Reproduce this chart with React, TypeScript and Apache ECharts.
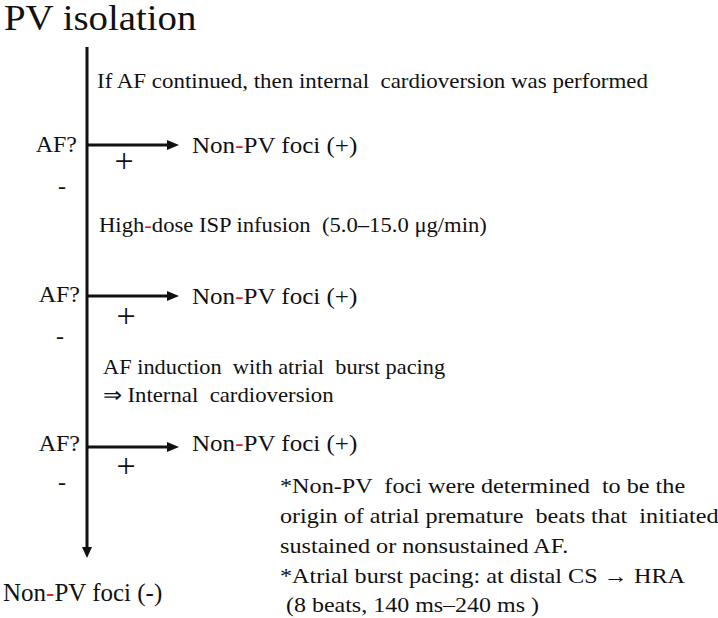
import React, { useEffect, useRef } from "react";
import * as echarts from "echarts";

// ---- content ----
const title = "PV isolation";
const stepNotes = [
  "If AF continued, then internal  cardioversion was performed",
  "High-dose ISP infusion  (5.0–15.0 μg/min)",
  "AF induction  with atrial  burst pacing",
  "⇒ Internal  cardioversion",
];
const stepRedHyphen = [false, true, false, false];
const decisionLabels = ["AF?", "AF?", "AF?"];
const positiveLabels = ["Non-PV foci (+)", "Non-PV foci (+)", "Non-PV foci (+)"];
const yesSigns = ["+", "+", "+"];
const noSigns = ["-", "-", "-"];
const negativeLabel = "Non-PV foci (-)";
const footnotes = [
  "*Non-PV  foci were determined  to be the",
  "origin of atrial premature  beats that  initiated",
  "sustained or nonsustained AF.",
  "*Atrial burst pacing: at distal CS \u2192 HRA",
  " (8 beats, 140 ms\u2013240 ms )",
];

// ---- layout ----
const FONT = '"Liberation Serif", "Times New Roman", serif';
const INK = "#111111";
const RED = "#e8201c";
const LINE_X = 87;
const LINE_TOP = 47;
const LINE_TIP = 558;
const stepPos = [
  [97, 81],
  [99, 225],
  [103, 367],
  [103, 395],
];
const stepScale = [1.093, 1.078, 1.065, 1.085];
const decisionY = [145, 296, 447];
const afPos = [
  [77, 144],
  [80, 294],
  [80, 443],
];
const posLabelPos = [
  [192, 145],
  [192, 296],
  [192, 443],
];
const yesPos = [
  [124, 160],
  [126, 315],
  [126, 465],
];
const noPos = [
  [62, 186],
  [60, 336],
  [62, 482],
];
const footY = [485, 515, 545, 575, 604];
const footX = [280, 280, 280, 280, 280];
const footScale = [1.1, 1.098, 1.1, 1.1, 1.09];

function withRed(s: string, red: boolean) {
  return red ? s.replace("-", "{r|-}") : s;
}

function txt(
  text: string,
  x: number,
  y: number,
  size: number,
  align: string = "left",
  redHyphen = false,
  scaleX = 1
) {
  return {
    type: "text",
    x,
    y,
    scaleX,
    silent: true,
    style: {
      text: withRed(text, redHyphen),
      fill: INK,
      font: `${size}px ${FONT}`,
      fontSize: size,
      fontFamily: FONT,
      align,
      verticalAlign: "middle",
      rich: {
        r: { fill: RED, fontSize: size, fontFamily: FONT, font: `${size}px ${FONT}` },
      },
    },
  };
}

export default function App() {
  const ref = useRef<HTMLDivElement>(null);
  useEffect(() => {
    if (!ref.current) return;
    const chart = echarts.init(ref.current, null, { renderer: "svg" });
    const els: any[] = [];
    els.push({
      type: "rect",
      shape: { x: 0, y: 0, width: 718, height: 618 },
      style: { fill: "#ffffff" },
      silent: true,
    });
    els.push(txt(title, 4, 18, 35, "left", false, 1.11));
    // main vertical arrow
    els.push({
      type: "line",
      shape: { x1: LINE_X, y1: LINE_TOP, x2: LINE_X, y2: LINE_TIP - 8 },
      style: { stroke: INK, lineWidth: 3 },
    });
    els.push({
      type: "polygon",
      shape: {
        points: [
          [LINE_X - 5, LINE_TIP - 11],
          [LINE_X + 5, LINE_TIP - 11],
          [LINE_X, LINE_TIP],
        ],
      },
      style: { fill: INK },
    });
    stepNotes.forEach((s, i) => {
      els.push(txt(s, stepPos[i][0], stepPos[i][1], 21, "left", stepRedHyphen[i], stepScale[i]));
    });
    decisionY.forEach((y, i) => {
      els.push({
        type: "line",
        shape: { x1: LINE_X, y1: y, x2: 170, y2: y },
        style: { stroke: INK, lineWidth: 3 },
      });
      els.push({
        type: "polygon",
        shape: {
          points: [
            [167, y - 5],
            [179, y],
            [167, y + 5],
          ],
        },
        style: { fill: INK },
      });
      els.push(txt(decisionLabels[i], afPos[i][0], afPos[i][1], 24, "right"));
      els.push(txt(positiveLabels[i], posLabelPos[i][0], posLabelPos[i][1], 24, "left", true, 1.044));
      els.push(txt(yesSigns[i], yesPos[i][0], yesPos[i][1], 34, "center"));
      els.push(txt(noSigns[i], noPos[i][0], noPos[i][1], 24, "center"));
    });
    els.push(txt(negativeLabel, 3, 592, 25, "left", true));
    footnotes.forEach((s, i) => {
      els.push(txt(s, footX[i], footY[i], 22, "left", false, footScale[i]));
    });
    chart.setOption({
      animation: false,
      backgroundColor: "#ffffff",
      graphic: { elements: els },
    });
    return () => chart.dispose();
  }, []);
  return (
    <div
      ref={ref}
      style={{ position: "fixed", left: 0, top: 0, width: 718, height: 618, background: "#fff" }}
    />
  );
}
